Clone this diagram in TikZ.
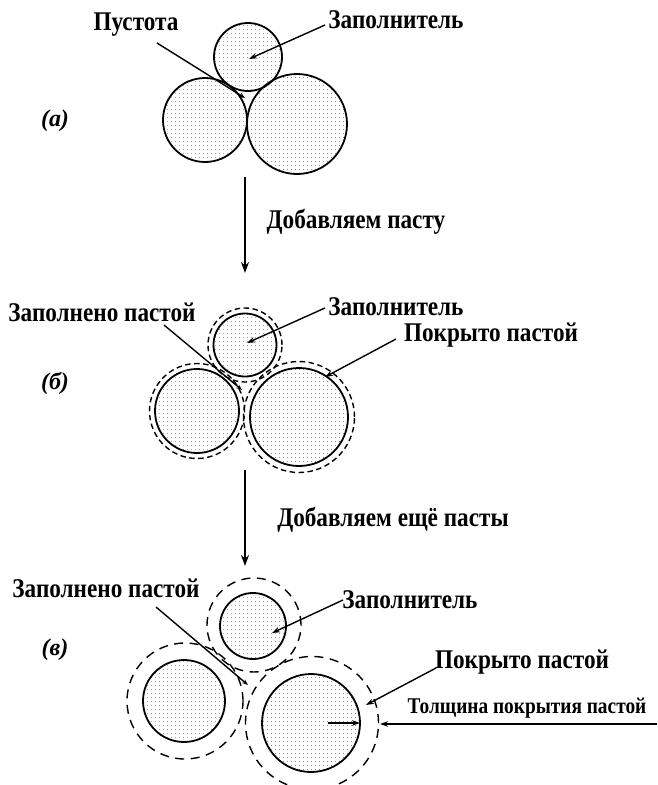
\documentclass[tikz,border=0pt]{standalone}
\usepackage{fontspec}
\setmainfont{Liberation Serif}
\newfontfamily\lblfont[FakeStretch=0.86]{Liberation Serif}
\usetikzlibrary{arrows.meta,patterns.meta}

\tikzset{
  grain/.style={circle, draw=black, line width=1.8pt, inner sep=0pt,
    minimum size=#1, pattern={Dots[radius=0.6pt,distance=4pt]},
    pattern color=black!60},
  paste/.style={circle, draw=black, line width=1.4pt, inner sep=0pt,
    minimum size=#1, dash pattern=on 5.5pt off 3.5pt},
  pasteB/.style={circle, draw=black, line width=1.4pt, inner sep=0pt,
    minimum size=#1, dash pattern=on 9pt off 6.5pt},
  lbl/.style={font=\lblfont\bfseries\fontsize{27}{29}\selectfont, inner sep=0pt},
  lblsmall/.style={font=\lblfont\bfseries\fontsize{22.5}{24}\selectfont, inner sep=0pt},
  tag/.style={font=\bfseries\itshape\fontsize{24}{26}\selectfont, inner sep=0pt},
  ptr/.style={-{Stealth[length=8pt,width=5.5pt]}, line width=1.4pt},
  lead/.style={line width=1.4pt, -{Stealth[length=6pt,width=4.5pt]}},
  stepdown/.style={-{Stealth[length=11pt,width=8pt]}, line width=1.6pt}
}

\begin{document}
\begin{tikzpicture}[x=1pt,y=-1pt]
\useasboundingbox (0,0) rectangle (657,785);

% ---------- stage (a): dry grains ----------
\node[grain=68]  (aT) at (248,57)  {};
\node[grain=84]  (aL) at (205,120) {};
\node[grain=100] (aR) at (297,124) {};

\node[lbl] (aVoidLbl) at (136,25) {Пустота};
\node[lbl] (aFillLbl) at (396,20) {Заполнитель};
\node[tag] (aTag) at (55,121) {(a)};

\coordinate (aVoidStart) at (157,43);
\coordinate (aVoid) at (245,98);
\coordinate (aFillStart) at (325,25);
\coordinate (aFillTip) at (249,59);
\draw[lead] (aVoidStart) -- (aVoid);
\draw[ptr] (aFillStart) -- (aFillTip);

% ---------- step 1 ----------
\coordinate (s1a) at (245,177);
\coordinate (s1b) at (245,273);
\draw[stepdown] (s1a) -- (s1b);
\node[lbl] (s1Lbl) at (356,222) {Добавляем пасту};

% ---------- stage (б): thin paste film ----------
\node[paste=74]  (bTr) at (245,345) {};
\node[paste=95]  (bLr) at (197,411) {};
\node[paste=111] (bRr) at (299,417) {};
\node[grain=63]  (bT) at (245,345) {};
\node[grain=84]  (bL) at (197,411) {};
\node[grain=98]  (bR) at (299,417) {};

\node[lbl] (bGapLbl)  at (102,312) {Заполнено пастой};
\node[lbl] (bFillLbl) at (396,307) {Заполнитель};
\node[lbl] (bCoatLbl) at (491,335) {Покрыто пастой};
\node[tag] (bTag) at (55,383) {(б)};

\coordinate (bGapStart) at (164,325);
\coordinate (bGap) at (242,390);
\coordinate (bFillStart) at (325,308);
\coordinate (bFillTip) at (247,343);
\coordinate (bCoatStart) at (396,339);
\coordinate (bCoatTip) at (325,377);
\draw[lead] (bGapStart) -- (bGap);
\draw[ptr] (bFillStart) -- (bFillTip);
\draw[ptr] (bCoatStart) -- (bCoatTip);

% ---------- step 2 ----------
\coordinate (s2a) at (245,470);
\coordinate (s2b) at (245,566);
\draw[stepdown] (s2a) -- (s2b);
\node[lbl] (s2Lbl) at (393,520) {Добавляем ещё пасты};

% ---------- stage (в): thick paste coating ----------
\node[pasteB=94]  (cTr) at (254,625) {};
\node[pasteB=116] (cLr) at (185,701) {};
\node[pasteB=133] (cRr) at (312,723) {};
\node[grain=66] (cT) at (253,626) {};
\node[grain=82] (cL) at (184,701) {};
\node[grain=98] (cR) at (311,723) {};

\node[lbl] (cGapLbl)  at (106,588) {Заполнено пастой};
\node[lbl] (cFillLbl) at (410,600) {Заполнитель};
\node[lbl] (cCoatLbl) at (522,662) {Покрыто пастой};
\node[lblsmall] (cThkLbl) at (527,708) {Толщина покрытия пастой};
\node[tag] (cTag) at (55,650) {(в)};

\coordinate (cGapStart) at (156,607);
\coordinate (cGap) at (248,685);
\coordinate (cFillStart) at (343,600);
\coordinate (cFillTip) at (272,633);
\coordinate (cCoatStart) at (436,668);
\coordinate (cCoatTip) at (366,705);
\coordinate (cThkStart) at (657,724);
\coordinate (cThkTip) at (380,724);
\coordinate (cRadStart) at (328,723);
\coordinate (cRadTip) at (360,723);
\draw[lead] (cGapStart) -- (cGap);
\draw[ptr] (cFillStart) -- (cFillTip);
\draw[ptr] (cCoatStart) -- (cCoatTip);
\draw[ptr] (cThkStart) -- (cThkTip);
\draw[ptr] (cRadStart) -- (cRadTip);
\end{tikzpicture}
\end{document}
